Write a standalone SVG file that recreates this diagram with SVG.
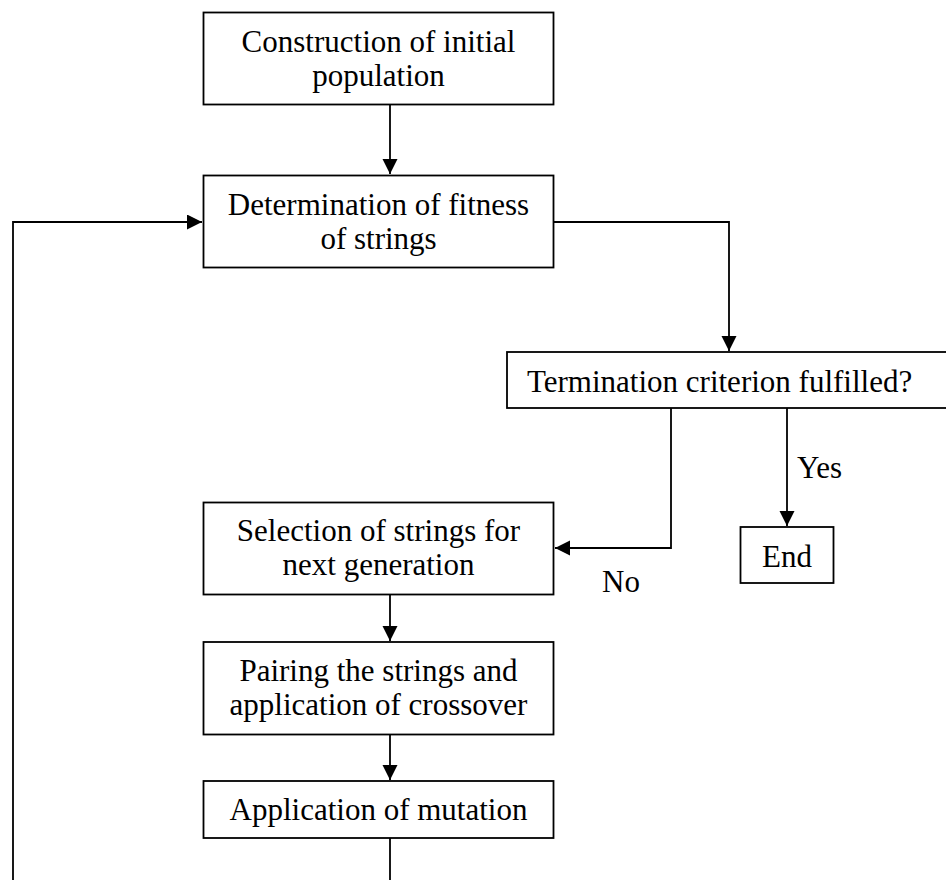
<svg xmlns="http://www.w3.org/2000/svg" width="946" height="880" viewBox="0 0 946 880">
<style>
.box{fill:#fff;stroke:#000;stroke-width:1.8}
.t{font-family:"Liberation Serif","Times New Roman",serif;font-size:31px;fill:#000}
.c{text-anchor:middle}
.ln{fill:none;stroke:#000;stroke-width:1.8}
</style>
<defs>
<marker id="ah" markerUnits="userSpaceOnUse" markerWidth="17" markerHeight="17" refX="15" refY="7.5" orient="auto">
<path d="M0,0 L15,7.5 L0,15 z" fill="#000"/>
</marker>
</defs>
<rect width="946" height="880" fill="#fff"/>
<g id="connectors">
<path class="ln" d="M390,105 V174" marker-end="url(#ah)"/>
<path class="ln" d="M554,222 H729 V351" marker-end="url(#ah)"/>
<path class="ln" d="M671,408 V548 H555" marker-end="url(#ah)"/>
<path class="ln" d="M787,408 V526" marker-end="url(#ah)"/>
<path class="ln" d="M390,595 V641" marker-end="url(#ah)"/>
<path class="ln" d="M390,735 V780" marker-end="url(#ah)"/>
<path class="ln" d="M390,838 V880"/>
<path class="ln" d="M13,880 V222 H202" marker-end="url(#ah)"/>
<text class="t" x="797" y="478">Yes</text>
<text class="t" x="602" y="592">No</text>
</g>
<g id="n1">
<rect class="box" x="203.5" y="12.5" width="350" height="92"/>
<text class="t c" x="378.5" y="52">Construction of initial</text>
<text class="t c" x="378.5" y="86">population</text>
</g>
<g id="n2">
<rect class="box" x="203.5" y="175.5" width="350" height="92"/>
<text class="t c" x="378.5" y="215">Determination of fitness</text>
<text class="t c" x="378.5" y="249">of strings</text>
</g>
<g id="n3">
<rect class="box" x="507" y="352" width="445" height="56"/>
<text class="t" x="527" y="392">Termination criterion fulfilled?</text>
</g>
<g id="n4">
<rect class="box" x="740.5" y="527" width="93" height="56"/>
<text class="t c" x="787" y="567">End</text>
</g>
<g id="n5">
<rect class="box" x="203.5" y="502.5" width="350" height="92"/>
<text class="t c" x="378.5" y="541">Selection of strings for</text>
<text class="t c" x="378.5" y="575">next generation</text>
</g>
<g id="n6">
<rect class="box" x="203.5" y="642" width="350" height="92.5"/>
<text class="t c" x="378.5" y="681">Pairing the strings and</text>
<text class="t c" x="378.5" y="715">application of crossover</text>
</g>
<g id="n7">
<rect class="box" x="203.5" y="781" width="350" height="57"/>
<text class="t c" x="378.5" y="820">Application of mutation</text>
</g>
</svg>
